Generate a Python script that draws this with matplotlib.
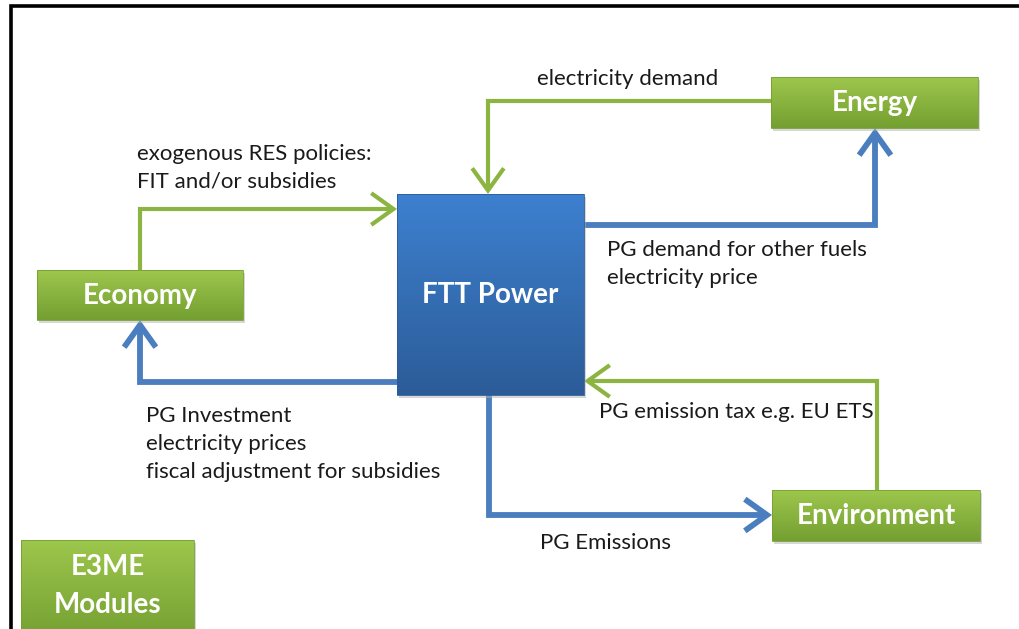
import matplotlib.pyplot as plt
import numpy as np
from matplotlib.colors import LinearSegmentedColormap
from matplotlib.patches import FancyArrowPatch, Rectangle
from matplotlib.path import Path

# boxes: label, x0, y0, x1, y1, kind (pixel coords, y down)
box_labels = ["Economy", "Energy", "Environment", "FTT Power", "E3ME\nModules"]
box_x0 = [37, 771, 772, 397, 21]
box_y0 = [270, 77, 490, 194, 540]
box_x1 = [243, 978, 980, 584, 194]
box_y1 = [320, 128, 541, 395, 640]
box_kind = ["green", "green", "green", "blue", "green"]
box_text_y = [296, 103, 516, 295, 586]

# connectors as polylines
arrow_paths = [
    [(140, 270), (140, 209), (397, 209)],   # RES policies -> FTT
    [(771, 101), (488, 101), (488, 194)],   # electricity demand
    [(584, 225), (875, 225), (875, 128)],   # PG demand -> Energy
    [(397, 382), (140, 382), (140, 320)],   # PG investment -> Economy
    [(877, 490), (877, 381), (584, 381)],   # emission tax -> FTT
    [(489, 395), (489, 515), (772, 515)],   # PG emissions -> Environment
]
arrow_kind = ["green", "green", "blue", "blue", "green", "blue"]

# annotations
note_text = [
    "electricity demand",
    "exogenous RES policies:\nFIT and/or subsidies",
    "PG demand for other fuels\nelectricity price",
    "PG Investment\nelectricity prices\nfiscal adjustment for subsidies",
    "PG emission tax e.g. EU ETS",
    "PG Emissions",
]
note_x = [537, 137, 607, 146, 599, 540]
note_y = [69, 144, 240, 406, 402, 533]

colors = {
    "green": ("#9dc64c", "#74a032", "#8cb440"),
    "blue": ("#3d80cf", "#2c5c98", "#4a7ebf"),
}

fig = plt.figure(figsize=(10.2, 6.29), dpi=100)
ax = fig.add_axes([0, 0, 1, 1])
ax.set_xlim(0, 1020)
ax.set_ylim(629, 0)
ax.axis("off")

# outer frame (only left and top visible)
ax.plot([11, 11, 1030], [640, 5.5, 5.5], color="black", lw=2.6, solid_joinstyle="miter",
        zorder=1)

for pts, kind in zip(arrow_paths, arrow_kind):
    lw = 4.2 if kind == "blue" else 3.0
    codes = [Path.MOVETO] + [Path.LINETO] * (len(pts) - 1)
    arr = FancyArrowPatch(path=Path(pts, codes),
                          arrowstyle="->,head_length=0.42,head_width=0.3",
                          mutation_scale=38, lw=lw, color=colors[kind][2],
                          joinstyle="miter", capstyle="butt", zorder=2)
    ax.add_patch(arr)

grad = np.linspace(0, 1, 100).reshape(-1, 1)
for label, x0, y0, x1, y1, kind, ty in zip(box_labels, box_x0, box_y0, box_x1, box_y1,
                                            box_kind, box_text_y):
    top, bot, _ = colors[kind]
    cmap = LinearSegmentedColormap.from_list(kind, [top, bot])
    ax.add_patch(Rectangle((x0 + 2, y0 + 3), x1 - x0, y1 - y0, color="#b0b0b0",
                           alpha=0.5, lw=0, zorder=3))
    ax.imshow(grad, extent=(x0, x1, y1, y0), cmap=cmap, aspect="auto",
              origin="upper", zorder=4)
    ax.add_patch(Rectangle((x0, y0), x1 - x0, y1 - y0, fill=False, lw=0.6,
                           edgecolor=bot, zorder=5))
    ax.text((x0 + x1) / 2, ty, label, ha="center", va="center", color="white",
            fontsize=20, fontweight="bold", family="Lato", linespacing=1.55, zorder=6)

for txt, x, y in zip(note_text, note_x, note_y):
    ax.text(x, y, txt, ha="left", va="top", fontsize=16, family="Lato",
            color="#1a1a1a", linespacing=1.5, zorder=6)

ax.set_xlim(0, 1020)
ax.set_ylim(629, 0)
fig.savefig("out.png", dpi=100)
